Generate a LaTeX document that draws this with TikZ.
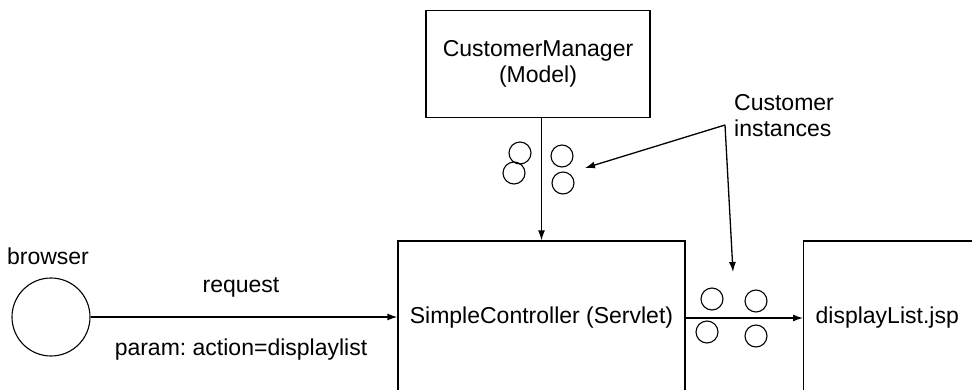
\documentclass[tikz,border=0pt]{standalone}
\usepackage{fontspec}
\setmainfont{Liberation Sans}
\usetikzlibrary{arrows.meta}
\frenchspacing

\begin{document}
\begin{tikzpicture}[
		x=1pt, y=-1pt,
		every node/.style={font=\fontsize{23}{26}\selectfont},
		box/.style={
			draw,
			line width=1.3pt,
			align=center,
			inner sep=0pt
		},
		obj/.style={
			draw,
			circle,
			line width=1.1pt,
			minimum size=22pt,
			inner sep=0pt
		},
		line/.style={draw, line width=1.3pt, -{Latex[length=10pt,width=7pt]}}
		]
		
		\useasboundingbox (0,0) rectangle (972,389);
		\clip (0,0) rectangle (972,389);
		
		% Model
		\node[box, minimum width=224pt, minimum height=107pt] (model) at (538,64)
		{CustomerManager\\(Model)};
		
		% Controller (runs off the bottom)
		\node[box, minimum width=287pt, minimum height=154pt] (ctrl) at (541.5,318)
		{SimpleController (Servlet)};
		
		% View (runs off the right and bottom)
		\node[box, anchor=west, text width=176pt, inner xsep=12pt, align=left,
		minimum height=154pt] (view) at (803,318) {displayList.jsp};
		
		% Browser
		\node[draw, circle, line width=1.1pt, minimum size=78pt, inner sep=0pt] (browser) at (51,317) {};
		\node (browserlbl) at (48,256) {browser};
		\node (req) at (241,287) {request};
		\node (param) at (241,350) {param: action=displaylist};
		
		% Customer instances
		\node[obj] (oa) at (520,153) {};
		\node[obj] (ob) at (514,173) {};
		\node[obj] (oc) at (562,156) {};
		\node[obj] (od) at (563,183) {};
		\node[obj] (oe) at (712,299) {};
		\node[obj] (of) at (756,301) {};
		\node[obj] (og) at (707,332) {};
		\node[obj] (oh) at (756,336) {};
		
		\node[align=left, anchor=south west, inner sep=0pt] (inst) at (734,137) {Customer\\instances};
		\coordinate (apex) at (725,125);
		\coordinate (tipa) at (585,168);
		\coordinate (tipb) at (733,272);
		
		% Connectors
		\draw[line] (model.south -| ctrl.north) -- (ctrl.north);
		\draw[line] (browser.east) -- (browser.east -| ctrl.west);
		\draw[line] (ctrl.east) -- (view.west);
		\draw[line] (apex) -- (tipa);
		\draw[line] (apex) -- (tipb);
		
	\end{tikzpicture}
\end{document}
